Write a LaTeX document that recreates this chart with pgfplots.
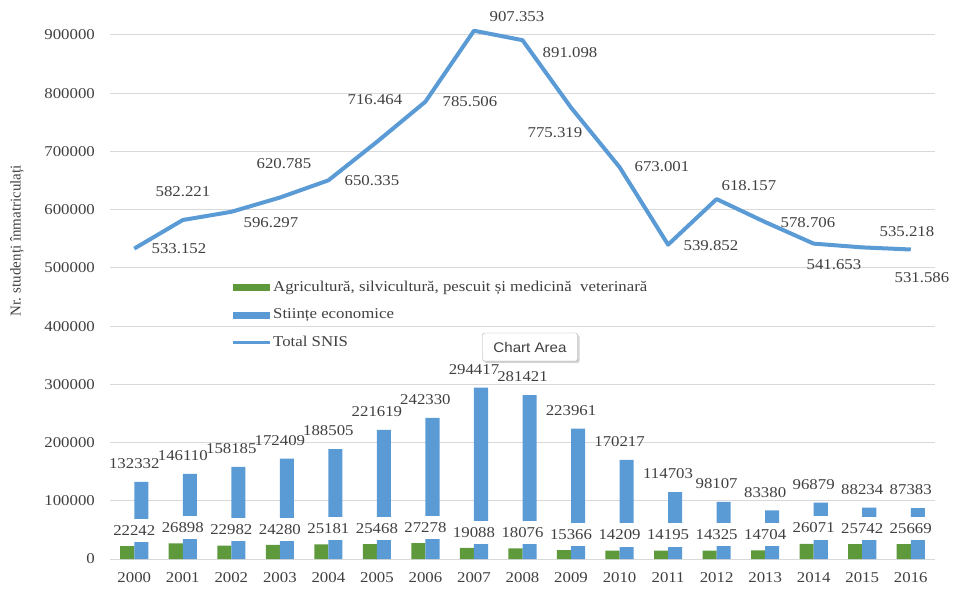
\documentclass[border=0pt]{standalone}
\usepackage{pgfplots}
\pgfplotsset{compat=1.18}
\usepackage{pgfplotstable}
\usepackage{fontspec}
\setmainfont{Liberation Serif}[FakeStretch=1.12]
\newfontfamily\plainserif{Liberation Serif}
\newfontfamily\tipfont{Liberation Sans}[FakeStretch=1.08]
\usetikzlibrary{shadows}
\definecolor{agri}{RGB}{94,154,60}
\definecolor{econ}{RGB}{91,155,213}
\definecolor{txt}{RGB}{64,64,64}
\definecolor{gridc}{RGB}{217,217,217}

\pgfplotstableread{
i year agri econ total lab dx dy
0 2000 22242 132332 533152 533.152 44.7 -0.4
1 2001 26898 146110 582221 582.221 0.2 28
2 2002 22982 158185 596297 596.297 39.6 -11.2
3 2003 24280 172409 620785 620.785 4.1 33.6
4 2004 25181 188505 650335 650.335 43.6 -0.6
5 2005 25468 221619 716464 716.464 -2 41.9
6 2006 27278 242330 785506 785.506 44.5 -0.3
7 2007 19088 294417 907353 907.353 43 13.7
8 2008 18076 281421 891098 891.098 47.5 -12.8
9 2009 15366 223961 775319 775.319 -16.1 -25.4
10 2010 14209 170217 673001 673.001 42.4 0.2
11 2011 14195 114703 539852 539.852 42.9 -1.3
12 2012 14325 98107 618157 618.157 32.3 13.1
13 2013 14704 83380 578706 578.706 42.8 -0.9
14 2014 26071 96879 541653 541.653 20.3 -21.4
15 2015 25742 88234 535218 535.218 44.7 15.4
16 2016 25669 87383 531586 531.586 11.2 -28.5
}\datatable

\begin{document}
\fontsize{15pt}{18pt}\selectfont
\begin{tikzpicture}[x=1pt,y=1pt]
\path[use as bounding box] (0,0) rectangle (957,591);
\begin{axis}[
  at={(110pt,32pt)}, anchor=south west,
  scale only axis, width=825pt, height=524pt,
  xmin=-0.5, xmax=16.5, ymin=0, ymax=900000,
  clip=false,
  axis line style={draw=none},
  major tick length=0pt,
  ymajorgrids, grid style={gridc, line width=1pt},
  ytick={0,100000,...,900000},
  scaled y ticks=false,
  yticklabel style={/pgf/number format/fixed,/pgf/number format/1000 sep={},
     /pgf/number format/assume math mode=true, inner sep=0pt, anchor=east, xshift=-15pt, text=txt},
  xtick={0,...,16},
  xticklabels={2000,2001,2002,2003,2004,2005,2006,2007,2008,2009,2010,2011,2012,2013,2014,2015,2016},
  xticklabel style={inner sep=0pt, anchor=north, yshift=-13pt, text=txt},
  legend style={at={(0.143,0.538)}, anchor=north west, draw=none, fill=none,
     row sep=11pt, font=\fontsize{15pt}{18pt}\selectfont, text=txt,
     nodes={inner sep=2pt}},
  legend cell align=left,
]
\addplot[ybar, bar width=0.29, bar shift=-0.145, fill=agri, draw=none,
  legend image code/.code={\fill[agri] (0pt,-3.5pt) rectangle (37pt,3.5pt);}]
  table[x=i, y=agri] {\datatable};
\addlegendentry{Agricultură, silvicultură, pescuit și medicină\ \ veterinară}
\addplot[ybar, bar width=0.29, bar shift=0.145, fill=econ, draw=none,
  point meta=explicit symbolic,
  nodes near coords={\pgfplotspointmeta},
  every node near coord/.append style={anchor=south, inner sep=0pt, yshift=13pt, text=txt},
  legend image code/.code={\fill[econ] (0pt,-3.5pt) rectangle (37pt,3.5pt);}]
  table[x=i, y=econ, meta=econ] {\datatable};
\addlegendentry{Stiințe economice}
\addplot[ybar, bar width=0.29, bar shift=-0.145, fill=none, draw=none, forget plot,
  point meta=explicit symbolic,
  nodes near coords={\pgfplotspointmeta},
  every node near coord/.append style={anchor=south, fill=white, inner xsep=2pt, inner ysep=6.5pt, yshift=4pt, text=txt}]
  table[x=i, y=agri, meta=agri] {\datatable};
\addplot[econ, line width=4pt, line join=round, no marks,
  point meta=explicit symbolic,
  visualization depends on={\thisrow{dx}\as\dx},
  visualization depends on={\thisrow{dy}\as\dy},
  nodes near coords={\pgfplotspointmeta},
  every node near coord/.append style={anchor=center, inner sep=0pt, xshift=\dx pt, yshift=\dy pt, text=txt},
  legend image code/.code={\draw[econ, line width=3pt] (0pt,0pt) -- (37pt,0pt);}]
  table[x=i, y=total, meta=lab] {\datatable};
\addlegendentry{Total SNIS}
\end{axis}
\node[rotate=90, text=txt, font=\plainserif\fontsize{15pt}{18pt}\selectfont] at (17,350) {Nr. studenți înmatriculați};
\node[draw=gray!70, fill=white, rounded corners=2pt, drop shadow={opacity=0.35, shadow xshift=2pt, shadow yshift=-2pt},
  minimum width=95pt, minimum height=28pt, inner sep=2pt, text=txt,
  font=\tipfont\fontsize{14pt}{17pt}\selectfont] at (530,244) {Chart Area};
\end{tikzpicture}
\end{document}
